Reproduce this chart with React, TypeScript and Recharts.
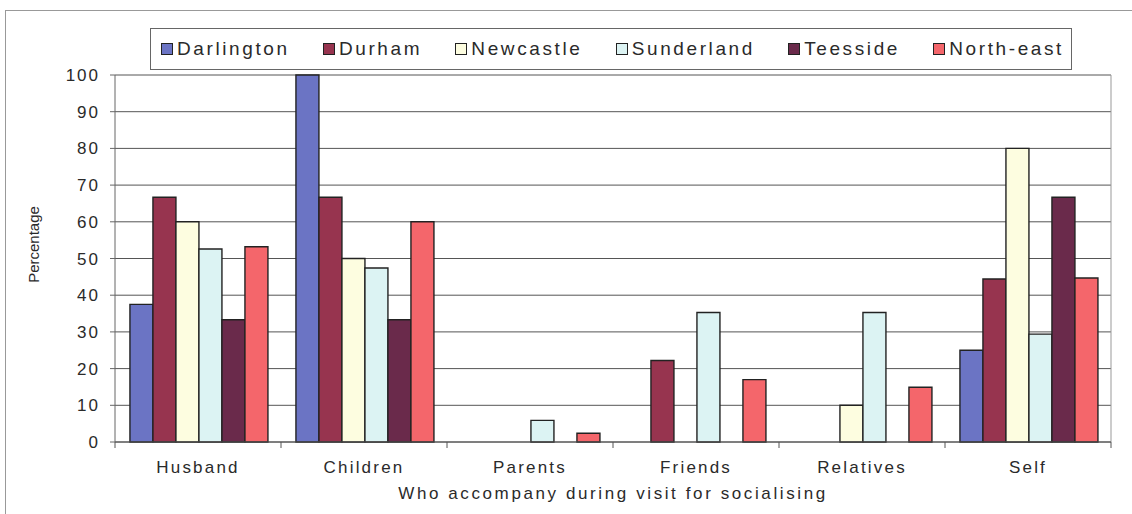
import { Bar, BarChart, CartesianGrid, Label, XAxis, YAxis } from "recharts";

const CATEGORIES = ["Husband", "Children", "Parents", "Friends", "Relatives", "Self"];
const DARLINGTON = [37.5, 100, 0, 0, 0, 25];
const DURHAM = [66.7, 66.7, 0, 22.2, 0, 44.4];
const NEWCASTLE = [60, 50, 0, 0, 10, 80];
const SUNDERLAND = [52.6, 47.4, 5.9, 35.3, 35.3, 29.4];
const TEESSIDE = [33.3, 33.3, 0, 0, 0, 66.7];
const NORTH_EAST = [53.2, 60, 2.4, 17, 14.9, 44.7];
const Y_TICKS = [0, 10, 20, 30, 40, 50, 60, 70, 80, 90, 100];

const SERIES = [
  { key: "darlington", name: "Darlington", values: DARLINGTON, color: "#6b74c4" },
  { key: "durham", name: "Durham", values: DURHAM, color: "#97344f" },
  { key: "newcastle", name: "Newcastle", values: NEWCASTLE, color: "#fdfde0" },
  { key: "sunderland", name: "Sunderland", values: SUNDERLAND, color: "#dcf3f3" },
  { key: "teesside", name: "Teesside", values: TEESSIDE, color: "#6a2a4b" },
  { key: "northEast", name: "North-east", values: NORTH_EAST, color: "#f4666b" },
];

const data = CATEGORIES.map((category, i) => {
  const row: Record<string, string | number> = { category };
  SERIES.forEach((s) => {
    row[s.key] = s.values[i];
  });
  return row;
});

const WIDTH = 1132;
const HEIGHT = 514;
const MARGIN = { top: 75, right: 21, bottom: 0, left: 0 };
const Y_AXIS_W = 115;
const X_AXIS_H = 72;
const PLOT_W = WIDTH - MARGIN.right - Y_AXIS_W;
const HALF_BAND = PLOT_W / CATEGORIES.length / 2;
const FONT = '"Liberation Sans", Arial, sans-serif';
const TEXT = "#2a2a2a";

function CategoryTick(props: any) {
  const { x, y, payload, index } = props;
  const last = index === CATEGORIES.length - 1;
  return (
    <g>
      <line x1={x - HALF_BAND} x2={x - HALF_BAND} y1={y} y2={y + 6} stroke="#555" />
      {last && <line x1={x + HALF_BAND} x2={x + HALF_BAND} y1={y} y2={y + 6} stroke="#555" />}
      <text
        x={x}
        y={y + 31}
        textAnchor="middle"
        fill={TEXT}
        fontSize={17}
        fontFamily={FONT}
        letterSpacing={2.2}
      >
        {payload.value}
      </text>
    </g>
  );
}

function YTitle(props: any) {
  const vb = props.viewBox;
  const cx = vb.x + 35;
  const cy = vb.y + vb.height / 2 - 14;
  return (
    <text
      x={cx}
      y={cy}
      transform={`rotate(-90 ${cx} ${cy})`}
      textAnchor="middle"
      dominantBaseline="middle"
      fill={TEXT}
      fontSize={15}
      fontFamily={FONT}
    >
      Percentage
    </text>
  );
}

function LegendBox() {
  return (
    <div
      style={{
        position: "absolute",
        left: 150,
        top: 28,
        width: 922,
        height: 42,
        boxSizing: "border-box",
        border: "1px solid #666",
        background: "#fff",
        display: "flex",
        alignItems: "center",
        justifyContent: "space-between",
        padding: "0 7px 0 10px",
        fontFamily: FONT,
        fontSize: 19,
        letterSpacing: 2.6,
        color: TEXT,
      }}
    >
      {SERIES.map((s) => (
        <div key={s.key} style={{ display: "flex", alignItems: "center" }}>
          <span
            style={{
              display: "inline-block",
              width: 12,
              height: 12,
              boxSizing: "border-box",
              border: "1.5px solid #222",
              background: s.color,
              marginRight: 4,
            }}
          />
          <span>{s.name}</span>
        </div>
      ))}
    </div>
  );
}

export default function App() {
  return (
    <div style={{ position: "absolute", left: 0, top: 0, width: WIDTH, height: HEIGHT, background: "#fff", overflow: "hidden" }}>
      <div
        style={{
          position: "absolute",
          left: 5,
          top: 10,
          width: WIDTH - 5,
          height: HEIGHT - 10,
          boxSizing: "border-box",
          borderLeft: "1.5px solid #999",
          borderTop: "1.5px solid #999",
        }}
      />
      <div style={{ position: "absolute", left: 0, top: 0 }}>
        <BarChart
          width={WIDTH}
          height={HEIGHT}
          data={data}
          margin={MARGIN}
          barCategoryGap="9%"
          barGap={0}
        >
          <CartesianGrid vertical={false} stroke="#555" strokeWidth={1} />
          <CartesianGrid
            horizontal={false}
            stroke="#999"
            verticalCoordinatesGenerator={({ offset }: any) => [offset.left + offset.width]}
          />
          <XAxis
            dataKey="category"
            height={X_AXIS_H}
            stroke="#555"
            tickLine={false}
            tickSize={0}
            tickMargin={0}
            interval={0}
            tick={<CategoryTick />}
          >
            <Label
              value="Who accompany during visit for socialising"
              position="insideBottom"
              offset={15}
              fill={TEXT}
              fontSize={17}
              fontFamily={FONT}
              letterSpacing={2.6}
            />
          </XAxis>
          <YAxis
            width={Y_AXIS_W}
            domain={[0, 100]}
            ticks={Y_TICKS}
            interval={0}
            stroke="#666"
            tickSize={5}
            tickMargin={10}
            tick={{ fill: TEXT, fontSize: 17, fontFamily: FONT, letterSpacing: 2 }}
          >
            <Label content={<YTitle />} />
          </YAxis>
          {SERIES.map((s) => (
            <Bar
              key={s.key}
              dataKey={s.key}
              name={s.name}
              fill={s.color}
              stroke="#222"
              strokeWidth={1.4}
              isAnimationActive={false}
            />
          ))}
        </BarChart>
      </div>
      <LegendBox />
    </div>
  );
}
